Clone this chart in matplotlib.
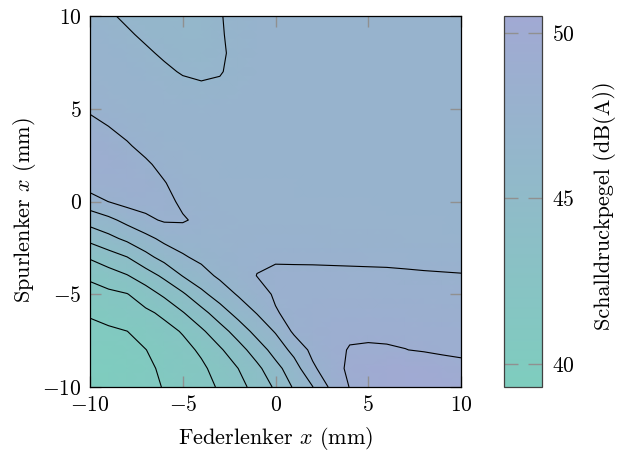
import numpy as np
import matplotlib
matplotlib.use("Agg")
import matplotlib.pyplot as plt
from matplotlib.colors import LinearSegmentedColormap

plt.rcParams["mathtext.fontset"] = "cm"
plt.rcParams["font.family"] = "cmr10"
plt.rcParams["axes.formatter.use_mathtext"] = True

# measuring grid (mm)
feder = np.arange(-10, 11, 1)
spur = np.arange(-10, 11, 1)
# Schalldruckpegel in dB(A), one row per Spurlenker position (-10 ... 10)
spl = np.array([
    [39.3, 39.62, 39.94, 40.26, 40.59, 41.01, 41.43, 41.89, 42.63, 43.46, 44.44, 45.64, 46.70, 48.23, 49.26, 49.7, 50.05, 50.25, 50.3, 50.25, 50.15],
    [39.62, 39.78, 40.05, 40.35, 40.70, 41.14, 41.57, 42.21, 43.03, 43.96, 45.11, 46.19, 47.77, 48.69, 49.45, 49.9, 50.15, 50.25, 50.1, 49.95, 49.65],
    [39.95, 40.06, 40.27, 40.52, 40.97, 41.42, 41.96, 42.86, 43.77, 44.86, 45.97, 47.12, 48.29, 48.83, 49.3, 49.35, 49.32, 49.24, 49.12, 48.95, 48.9],
    [40.27, 40.36, 40.53, 40.95, 41.39, 41.87, 42.82, 43.74, 44.80, 45.90, 46.84, 48.2, 48.5, 48.85, 49.0, 49.02, 49.0, 48.95, 48.88, 48.82, 48.75],
    [40.65, 40.95, 41.25, 41.55, 42.02, 42.95, 43.84, 44.92, 45.95, 46.80, 47.9, 48.28, 48.5, 48.65, 48.7, 48.72, 48.7, 48.65, 48.6, 48.55, 48.5],
    [41.28, 41.51, 41.73, 42.42, 43.24, 44.08, 45.18, 46.08, 46.86, 47.55, 48.11, 48.3, 48.4, 48.42, 48.42, 48.42, 48.4, 48.38, 48.35, 48.3, 48.25],
    [42.01, 42.48, 42.95, 43.67, 44.51, 45.55, 46.30, 46.95, 47.44, 48.0, 48.16, 48.16, 48.15, 48.14, 48.13, 48.12, 48.11, 48.09, 48.06, 48.04, 48.02],
    [43.16, 43.7, 44.24, 45.14, 45.92, 46.61, 47.01, 47.34, 47.64, 47.83, 47.87, 47.86, 47.86, 47.85, 47.84, 47.83, 47.82, 47.79, 47.77, 47.75, 47.73],
    [44.6, 45.17, 45.76, 46.37, 47.05, 47.26, 47.35, 47.45, 47.55, 47.58, 47.58, 47.57, 47.57, 47.56, 47.55, 47.54, 47.53, 47.5, 47.48, 47.46, 47.44],
    [46.01, 46.44, 47.1, 47.75, 48.1, 48.1, 47.7, 47.55, 47.5, 47.52, 47.51, 47.51, 47.5, 47.5, 47.5, 47.49, 47.48, 47.47, 47.46, 47.45, 47.43],
    [47.42, 48.0, 48.4, 48.39, 48.35, 47.75, 47.55, 47.48, 47.46, 47.46, 47.46, 47.46, 47.46, 47.45, 47.45, 47.44, 47.43, 47.42, 47.41, 47.4, 47.4],
    [48.6, 48.61, 48.63, 48.48, 48.03, 47.58, 47.5, 47.45, 47.44, 47.44, 47.44, 47.44, 47.43, 47.43, 47.43, 47.42, 47.42, 47.41, 47.41, 47.4, 47.4],
    [48.88, 48.8, 48.56, 48.13, 47.7, 47.52, 47.46, 47.44, 47.43, 47.43, 47.43, 47.42, 47.42, 47.42, 47.41, 47.41, 47.4, 47.4, 47.39, 47.39, 47.38],
    [48.9, 48.6, 48.08, 47.7, 47.52, 47.44, 47.4, 47.4, 47.4, 47.4, 47.4, 47.4, 47.4, 47.4, 47.4, 47.39, 47.39, 47.39, 47.38, 47.38, 47.37],
    [48.4, 48.0, 47.7, 47.52, 47.42, 47.38, 47.35, 47.36, 47.37, 47.38, 47.39, 47.39, 47.39, 47.38, 47.38, 47.38, 47.38, 47.37, 47.37, 47.37, 47.36],
    [47.8, 47.63, 47.5, 47.42, 47.38, 47.31, 47.21, 47.25, 47.33, 47.37, 47.38, 47.38, 47.38, 47.38, 47.37, 47.37, 47.37, 47.37, 47.36, 47.36, 47.36],
    [47.62, 47.48, 47.43, 47.36, 47.15, 47.0, 46.9, 46.92, 47.14, 47.3, 47.36, 47.37, 47.37, 47.37, 47.37, 47.36, 47.36, 47.36, 47.36, 47.35, 47.35],
    [47.5, 47.4, 47.3, 47.1, 46.89, 46.67, 46.58, 46.68, 47.01, 47.3, 47.35, 47.36, 47.36, 47.36, 47.36, 47.35, 47.35, 47.35, 47.35, 47.34, 47.34],
    [47.38, 47.3, 47.07, 46.86, 46.62, 46.45, 46.38, 46.62, 46.96, 47.27, 47.34, 47.35, 47.35, 47.35, 47.35, 47.35, 47.34, 47.34, 47.34, 47.34, 47.33],
    [47.26, 47.07, 46.84, 46.6, 46.4, 46.3, 46.3, 46.66, 46.99, 47.25, 47.33, 47.34, 47.34, 47.34, 47.34, 47.34, 47.33, 47.33, 47.33, 47.33, 47.32],
    [47.08, 46.84, 46.6, 46.38, 46.28, 46.22, 46.3, 46.69, 47.0, 47.24, 47.32, 47.33, 47.33, 47.33, 47.33, 47.33, 47.32, 47.32, 47.32, 47.32, 47.31],
])
levels = [40.54, 41.78, 43.02, 44.26, 45.5, 46.74, 47.98, 49.22]
ticks = [-10, -5, 0, 5, 10]
cb_ticks = [40, 45, 50]

cmap = LinearSegmentedColormap.from_list("tg", ["#7ecdbe", "#a1a9d3"])
W, H = 622, 453
fig = plt.figure(figsize=(W / 100, H / 100), dpi=100)
ax = fig.add_axes([90 / W, 1 - 387 / H, 371 / W, 371 / H])
X, Y = np.meshgrid(feder, spur)
pc = ax.pcolormesh(X, Y, spl, shading="gouraud", cmap=cmap, vmin=39.3, vmax=50.5)
ax.contour(X, Y, spl, levels=levels, colors="black", linewidths=0.8)
ax.set_xlim(-10, 10)
ax.set_ylim(-10, 10)
ax.set_xticks(ticks, [f"${t}$" for t in ticks])
ax.set_yticks(ticks, [f"${t}$" for t in ticks])
ax.tick_params(direction="in", length=8, width=1, color="#909090",
               top=True, right=True, labelsize=15.5, pad=6)
for s in ax.spines.values():
    s.set_linewidth(0.9)

cax = fig.add_axes([504 / W, 1 - 387 / H, 38 / W, 371 / H])
cb = fig.colorbar(pc, cax=cax)
cb.set_ticks(cb_ticks, labels=[f"${t}$" for t in cb_ticks])
cax.tick_params(direction="in", left=True, right=True, length=10, width=1,
                color="#909090", labelsize=15.5, pad=7)
cb.outline.set_edgecolor("#404040")
cb.outline.set_linewidth(0.9)

fig.text(275.5 / W, 1 - 438 / H, "Federlenker $x$ (mm)", fontsize=16,
         ha="center", va="center")
fig.text(25 / W, 1 - 210 / H, "Spurlenker $x$ (mm)", fontsize=16,
         ha="center", va="center", rotation=90)
fig.text(605 / W, 1 - 206 / H, "Schalldruckpegel (dB(A))", fontsize=16,
         ha="center", va="center", rotation=90)

fig.savefig("out.png", dpi=100)
